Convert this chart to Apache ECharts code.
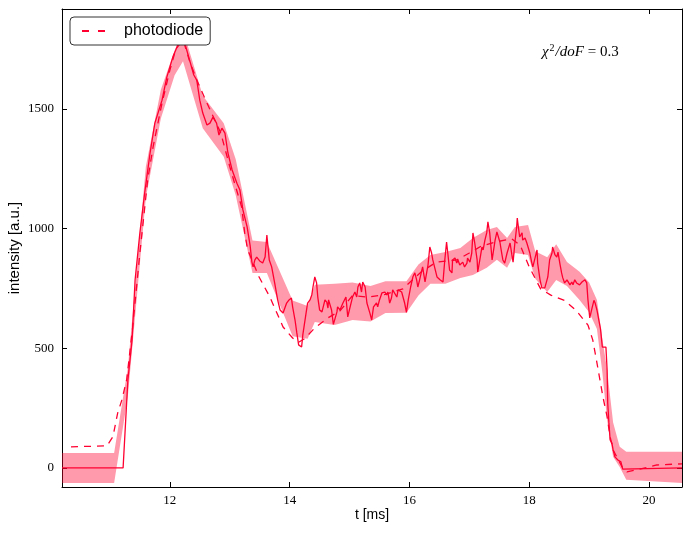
<!DOCTYPE html>
<html><head><meta charset="utf-8">
<script src="https://cdn.jsdelivr.net/npm/echarts@6/dist/echarts.min.js"></script>
<style>html,body{margin:0;padding:0;background:#fff}#c{width:692px;height:533px}</style>
</head><body><div id="c"></div>
<script>
// ---- data ----
var xTicks = [12, 14, 16, 18, 20];
var yTicks = [0, 500, 1000, 1500];

var bandX    = [10.2, 11.07, 11.3, 11.6, 11.85, 12.08, 12.22, 12.55, 12.9, 13.1, 13.38, 13.62, 14.05, 14.3, 14.42, 14.75, 15.05, 15.35, 15.6, 15.95, 16.15, 16.35, 16.6, 16.85, 17.06, 17.29, 17.46, 17.63, 17.76, 17.98, 18.1, 18.3, 18.45, 18.63, 18.84, 19.0, 19.13, 19.22, 19.3, 19.4, 19.51, 19.62, 20.55];
var bandLow  = [-63, -63, 300, 1130, 1460, 1641, 1700, 1420, 1300, 1140, 815, 815, 550, 540, 610, 597, 618, 612, 647, 648, 720, 770, 770, 794, 806, 836, 870, 836, 898, 890, 790, 735, 785, 760, 702, 650, 580, 400, 200, 46, 4, -50, -63];
var bandHigh = [62, 62, 420, 1260, 1580, 1745, 1830, 1555, 1440, 1290, 950, 944, 700, 677, 765, 770, 775, 760, 780, 780, 850, 890, 902, 919, 961, 994, 1007, 961, 1007, 1015, 905, 880, 935, 860, 820, 775, 702, 540, 409, 190, 88, 67, 67];

var pdX = [10.35, 10.95, 11.05, 11.13, 11.2, 11.25, 11.28, 11.38, 11.5, 11.63, 11.72, 11.87, 12.0, 12.1, 12.22, 12.33, 12.45, 12.62, 12.85, 13.0, 13.09, 13.2, 13.25, 13.3, 13.49, 13.67, 13.89, 14.05, 14.15, 14.25, 14.42, 14.64, 14.84, 15.05, 15.31, 15.6, 15.89, 16.2, 16.45, 16.79, 17.0, 17.2, 17.45, 17.71, 17.85, 18.0, 18.19, 18.36, 18.59, 18.79, 18.98, 19.06, 19.13, 19.18, 19.23, 19.3, 19.35, 19.4, 19.55, 19.63, 19.8, 20.13, 20.55];
var pdY = [88, 92, 130, 230, 284, 338, 368, 589, 898, 1203, 1341, 1525, 1662, 1750, 1790, 1700, 1621, 1525, 1400, 1260, 1182, 1090, 982, 911, 798, 714, 589, 543, 525, 540, 585, 627, 656, 720, 714, 725, 748, 820, 860, 869, 898, 927, 945, 957, 930, 840, 748, 722, 700, 656, 597, 535, 439, 368, 297, 213, 130, 75, 4, -17, -8, 12, 17];

var fitX = [10.2, 11.22, 11.3, 11.37, 11.42, 11.5, 11.58, 11.67, 11.75, 11.87, 11.95, 12.0, 12.05, 12.12, 12.17, 12.25, 12.33, 12.4, 12.45, 12.5, 12.55, 12.62, 12.67, 12.72, 12.78, 12.82, 12.87, 12.92, 12.97, 13.04, 13.12, 13.17, 13.22, 13.29, 13.34, 13.37, 13.39, 13.42, 13.45, 13.5, 13.55, 13.59, 13.62, 13.66, 13.7, 13.75, 13.8, 13.84, 13.89, 13.95, 13.99, 14.03, 14.05, 14.09, 14.12, 14.15, 14.2, 14.22, 14.29, 14.3, 14.34, 14.37, 14.39, 14.42, 14.45, 14.47, 14.5, 14.54, 14.59, 14.62, 14.64, 14.65, 14.7, 14.73, 14.79, 14.8, 14.84, 14.89, 14.94, 14.97, 15.01, 15.05, 15.09, 15.12, 15.14, 15.17, 15.2, 15.22, 15.26, 15.29, 15.34, 15.37, 15.4, 15.45, 15.47, 15.5, 15.54, 15.59, 15.62, 15.64, 15.67, 15.7, 15.72, 15.79, 15.81, 15.87, 15.92, 15.95, 15.98, 16.02, 16.06, 16.09, 16.12, 16.14, 16.17, 16.2, 16.22, 16.26, 16.29, 16.31, 16.34, 16.37, 16.39, 16.46, 16.51, 16.56, 16.59, 16.62, 16.64, 16.67, 16.71, 16.72, 16.76, 16.79, 16.81, 16.84, 16.87, 16.89, 16.92, 16.96, 16.97, 17.01, 17.04, 17.06, 17.09, 17.13, 17.14, 17.18, 17.21, 17.23, 17.26, 17.29, 17.31, 17.34, 17.38, 17.39, 17.43, 17.46, 17.48, 17.51, 17.54, 17.56, 17.59, 17.63, 17.64, 17.68, 17.71, 17.73, 17.76, 17.79, 17.8, 17.81, 17.84, 17.88, 17.89, 17.93, 17.96, 17.98, 18.01, 18.04, 18.06, 18.09, 18.13, 18.14, 18.18, 18.21, 18.23, 18.26, 18.29, 18.31, 18.34, 18.38, 18.39, 18.43, 18.46, 18.48, 18.51, 18.54, 18.56, 18.59, 18.63, 18.64, 18.68, 18.71, 18.73, 18.76, 18.79, 18.81, 18.84, 18.88, 18.89, 18.93, 18.96, 18.98, 19.01, 19.05, 19.08, 19.1, 19.13, 19.16, 19.19, 19.22, 19.28, 19.3, 19.31, 19.33, 19.35, 19.38, 19.4, 19.43, 19.48, 19.53, 19.56, 19.58, 20.55];
var fitY = [0, 0, 368, 535, 785, 982, 1149, 1316, 1441, 1537, 1633, 1675, 1717, 1759, 1795, 1775, 1704, 1642, 1621, 1537, 1483, 1433, 1441, 1466, 1441, 1391, 1420, 1399, 1316, 1245, 1190, 1161, 1078, 1007, 930, 860, 840, 869, 881, 865, 856, 881, 973, 869, 840, 773, 702, 660, 647, 689, 702, 710, 673, 618, 564, 514, 505, 556, 673, 689, 702, 723, 756, 798, 773, 714, 660, 652, 702, 693, 668, 702, 660, 600, 652, 673, 660, 689, 714, 631, 673, 714, 735, 714, 756, 773, 735, 777, 756, 689, 647, 618, 673, 689, 673, 702, 731, 735, 723, 735, 689, 710, 744, 714, 744, 735, 689, 650, 702, 756, 800, 815, 786, 756, 786, 819, 840, 777, 819, 848, 923, 898, 869, 798, 786, 777, 869, 944, 898, 827, 815, 869, 877, 856, 869, 848, 840, 860, 840, 856, 877, 860, 898, 982, 940, 869, 819, 877, 923, 911, 952, 982, 1028, 982, 869, 877, 952, 986, 982, 944, 898, 869, 856, 898, 902, 940, 890, 860, 940, 1007, 1044, 1023, 965, 982, 952, 961, 940, 940, 898, 860, 840, 848, 911, 856, 786, 752, 744, 752, 744, 798, 869, 898, 923, 890, 881, 902, 856, 815, 794, 773, 786, 794, 765, 777, 765, 786, 773, 777, 765, 777, 773, 786, 773, 702, 627, 670, 700, 689, 660, 620, 580, 505, 505, 409, 271, 188, 117, 104, 75, 46, 33, 25, -5, 0, 0];

// ---- build ----
function zip(a, b) { return a.map(function (v, i) { return [v, b[i]]; }); }

var RED = '#ff0030';
var serif = 'Liberation Serif';
var sans = 'Liberation Sans';

var chart = echarts.init(document.getElementById('c'), null, {renderer: 'canvas'});
var axisCommon = {
  axisLine: {show: true, onZero: false, lineStyle: {color: '#000', width: 1}},
  splitLine: {show: false}
};
function fmt(v) { return String(v); }
chart.setOption({
  animation: false,
  backgroundColor: '#fff',
  grid: {left: 62, right: 10, top: 9, bottom: 46, containLabel: false, outerBoundsMode: 'none'},
  title: {
    left: 537, top: 38,
    text: '{m|χ}{s|2}{m|/doF}{r| = 0.3}',
    textStyle: {
      fontWeight: 'normal',
      rich: {
        m: {fontFamily: serif, fontStyle: 'italic', fontWeight: 'normal', fontSize: 15, color: '#000'},
        s: {fontFamily: serif, fontWeight: 'normal', fontSize: 10, color: '#000', padding: [0, 1, 8, 1]},
        r: {fontFamily: serif, fontWeight: 'normal', fontSize: 15, color: '#000'}
      }
    }
  },
  legend: {
    data: [{name: 'photodiode', icon: 'path://M0 0H7V2H0Z M16 0H23V2H16Z'}],
    left: 70, top: 17,
    orient: 'vertical',
    itemWidth: 23, itemHeight: 2,
    padding: [6, 7, 6, 12],
    borderColor: '#333', borderWidth: 1, borderRadius: 4,
    backgroundColor: '#fff',
    textStyle: {fontFamily: sans, fontSize: 16, color: '#000', padding: [0, 0, 0, 14]}
  },
  xAxis: [
    Object.assign({
      type: 'value', min: 10.2, max: 20.55, position: 'bottom',
      name: 't [ms]', nameLocation: 'middle', nameGap: 21, nameMoveOverlap: false,
      nameTextStyle: {fontFamily: sans, fontSize: 14, color: '#000'},
      axisTick: {show: true, inside: true, length: 5, customValues: xTicks, lineStyle: {color: '#000'}},
      axisLabel: {show: true, customValues: xTicks, formatter: fmt, fontFamily: serif, fontSize: 13, color: '#000', margin: 7}
    }, axisCommon),
    Object.assign({
      type: 'value', min: 10.2, max: 20.55, position: 'top',
      axisTick: {show: true, inside: true, length: 5, customValues: xTicks, lineStyle: {color: '#000'}},
      axisLabel: {show: false}
    }, axisCommon)
  ],
  yAxis: [
    Object.assign({
      type: 'value', min: -80, max: 1918, position: 'left',
      name: 'intensity [a.u.]', nameLocation: 'middle', nameGap: 40, nameMoveOverlap: false,
      nameTextStyle: {fontFamily: sans, fontSize: 15, color: '#000'},
      axisTick: {show: true, inside: true, length: 5, customValues: yTicks, lineStyle: {color: '#000'}},
      axisLabel: {show: true, customValues: yTicks, formatter: fmt, fontFamily: serif, fontSize: 13, color: '#000', margin: 8}
    }, axisCommon),
    Object.assign({
      type: 'value', min: -80, max: 1918, position: 'right',
      axisTick: {show: true, inside: true, length: 5, customValues: yTicks, lineStyle: {color: '#000'}},
      axisLabel: {show: false}
    }, axisCommon)
  ],
  series: [
    {
      name: 'band', type: 'custom', coordinateSystem: 'cartesian2d',
      xAxisIndex: 0, yAxisIndex: 0, silent: true, z: 1,
      data: [0],
      renderItem: function (params, api) {
        var pts = [];
        for (var i = 0; i < bandX.length; i++) pts.push(api.coord([bandX[i], bandHigh[i]]));
        for (var j = bandX.length - 1; j >= 0; j--) pts.push(api.coord([bandX[j], bandLow[j]]));
        return {type: 'polygon', shape: {points: pts}, style: {fill: 'rgba(255,0,48,0.4)', stroke: 'none'}};
      }
    },
    {
      name: 'photodiode', type: 'line', data: zip(pdX, pdY), symbol: 'none',
      lineStyle: {color: RED, width: 1.3, type: [7, 6]}, itemStyle: {color: RED}, z: 2
    },
    {
      name: 'fit', type: 'line', data: zip(fitX, fitY), symbol: 'none',
      lineStyle: {color: RED, width: 1.3}, itemStyle: {color: RED}, z: 3
    }
  ]
});
</script>
</body></html>
